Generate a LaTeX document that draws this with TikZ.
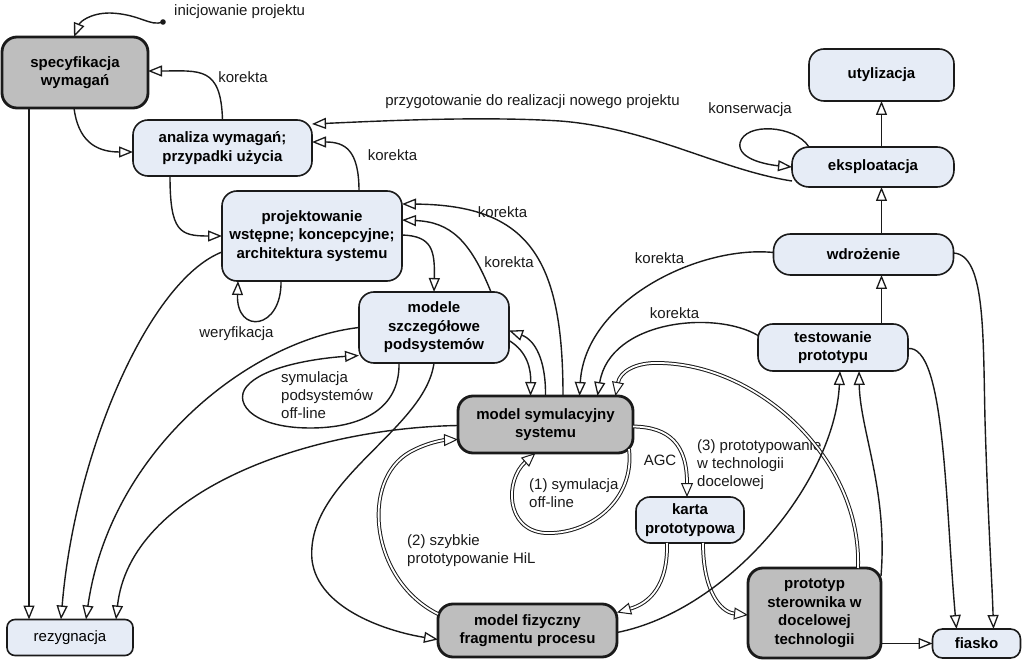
\documentclass[tikz,border=0pt]{standalone}
\usepackage{fontspec}
\setmainfont{Liberation Sans}
\usetikzlibrary{arrows.meta,calc}
\definecolor{lb}{HTML}{E6ECF6}
\definecolor{gr}{HTML}{BEBEBE}
\definecolor{bd}{HTML}{1A1A1A}
\begin{document}
\begin{tikzpicture}[x=1pt,y=-1pt,
  box/.style={draw=bd, line width=1.6pt, rounded corners=15pt, fill=lb, align=center,
    font=\bfseries\fontsize{15}{18.5}\selectfont, inner sep=0pt, outer sep=0pt, text=black},
  gbox/.style={box, fill=gr, line width=2.8pt},
  ar/.style={draw=bd, line width=1.4pt, -{Triangle[length=14pt,width=11pt,fill=white,line width=1.3pt]}},
  dbl/.style={draw=bd, double=white, double distance=1.8pt, line width=1pt, -{Triangle[length=14pt,width=12pt,fill=white]}},
  lbl/.style={font=\fontsize{15}{18}\selectfont, inner sep=0pt, align=left, text=bd}]
\useasboundingbox (0,0) rectangle (1023,660);
\fill[white] (0,0) rectangle (1023,660);

% nodes
\node[gbox, minimum width=146pt, minimum height=71pt] (spec) at (75,72.5) {specyfikacja\\wymagań};
\node[box, minimum width=179pt, minimum height=56pt] (ana) at (222.5,148) {analiza wymagań;\\przypadki użycia};
\node[box, minimum width=180pt, minimum height=90pt] (proj) at (312,236) {projektowanie\\wstępne; koncepcyjne;\\architektura systemu};
\node[box, minimum width=150pt, minimum height=71pt] (mod) at (434,327.5) {modele\\szczegółowe\\podsystemów};
\node[gbox, minimum width=175pt, minimum height=57pt] (sym) at (545.5,424.5) {model symulacyjny\\systemu};
\node[box, minimum width=108pt, minimum height=46pt, rounded corners=14pt] (karta) at (690,520) {karta\\prototypowa};
\node[gbox, minimum width=179pt, minimum height=53pt] (fiz) at (527.5,630.5) {model fizyczny\\fragmentu procesu};
\node[gbox, minimum width=133pt, minimum height=90pt] (prot) at (814.5,613) {prototyp\\sterownika w\\docelowej\\technologii};
\node[box, minimum width=88pt, minimum height=29pt, rounded corners=10pt] (fiasko) at (976.5,643.5) {fiasko};
\node[box, minimum width=126pt, minimum height=36pt, rounded corners=8pt, font=\fontsize{15}{18}\selectfont] (rez) at (70,637.5) {rezygnacja};
\node[box, minimum width=150pt, minimum height=47pt] (test) at (833,347.5) {testowanie\\prototypu};
\node[box, minimum width=180pt, minimum height=41pt, rounded corners=17pt] (wdr) at (863.5,254.5) {wdrożenie};
\node[box, minimum width=162pt, minimum height=40pt, rounded corners=17pt] (eksp) at (873,167) {eksploatacja};
\node[box, minimum width=145pt, minimum height=52pt] (uty) at (881.5,75) {utylizacja};

\coordinate (start) at (163,22);
\fill[bd] (start) circle (2.8pt);

% labels
\node[lbl, anchor=west] (l0) at (174,12) {inicjowanie projektu};
\node[lbl] (l1) at (243,77) {korekta};
\node[lbl] (l2) at (532.5,102) {przygotowanie do realizacji nowego projektu};
\node[lbl] (l3) at (392.5,155) {korekta};
\node[lbl] (l4) at (750,110) {konserwacja};
\node[lbl] (l5) at (502.5,212) {korekta};
\node[lbl] (l6) at (509,262) {korekta};
\node[lbl] (l7) at (659.5,258.5) {korekta};
\node[lbl] (l8) at (674.5,313) {korekta};
\node[lbl] (l9) at (236.5,334) {weryfikacja};
\node[lbl, anchor=west] (l10) at (281,395.5) {symulacja\\podsystemów\\off-line};
\node[lbl] (l11) at (660,460.5) {AGC};
\node[lbl, anchor=west] (l12) at (697,464.5) {(3) prototypowanie\\w technologii\\docelowej};
\node[lbl, anchor=west] (l13) at (529,493) {(1) symulacja\\off-line};
\node[lbl, anchor=west] (l14) at (407,551) {(2) szybkie\\prototypowanie HiL};

% connectors
\draw[ar] (start) .. controls (150,27) and (140,14) .. (110,13) .. controls (90,13) and (80,22) .. ([xshift=-1pt]spec.north);
\draw[ar] (ana.north) .. controls (221,66) and (200,71) .. ([yshift=1.5pt]spec.east);
\draw[ar] ([xshift=-1pt]spec.south) .. controls (78,140) and (95,152) .. ([yshift=-4pt]ana.west);
\draw[ar] ([xshift=-46pt]spec.south) -- ([xshift=-41pt]rez.north);
\draw[ar] ([yshift=-14pt]eksp.west) .. controls (720,170) and (650,128) .. (560,121) .. controls (480,116) and (380,121) .. ([yshift=24pt]ana.east);
\draw[ar] ([xshift=47pt]proj.north) .. controls (359,150) and (345,142) .. ([yshift=6pt]ana.east);
\draw[ar] ([xshift=-52.5pt]ana.south) .. controls (170,232) and (180,236) .. (proj.west);
\draw[ar] ([xshift=-31pt]proj.south) .. controls (282,330) and (236,335) .. ([xshift=-74pt]proj.south);
\draw[ar] ([yshift=-16pt]proj.west) .. controls (150,280) and (75,450) .. ([xshift=-9pt]rez.north);
\draw[ar] ([yshift=1pt]proj.east) .. controls (432,236) and (435,250) .. (mod.north);
\draw[ar] ([xshift=57pt]mod.north) .. controls (470,240) and (450,222) .. ([yshift=16pt]proj.east);
\draw[ar] ([xshift=17.5pt]sym.north) .. controls (563,260) and (530,205) .. ([yshift=32pt]proj.east);
\draw[ar] (mod.west) .. controls (250,340) and (110,450) .. ([xshift=16pt]rez.north);
\draw[ar] ([xshift=-35pt]mod.south) .. controls (400,410) and (360,428) .. (310,428) .. controls (250,428) and (230,400) .. (250,383) .. controls (270,365) and (320,358) .. ([yshift=-28pt]mod.west);
\draw[ar] (mod.south) .. controls (425,430) and (305,480) .. (312,560) .. controls (318,610) and (390,632) .. ([yshift=-9pt]fiz.west);
\draw[ar] ([yshift=-13pt]mod.east) .. controls (528,352) and (531,370) .. ([xshift=-15pt]sym.north);
\draw[ar] (sym.north) .. controls (546,360) and (535,340) .. ([yshift=-3pt]mod.east);
\draw[ar] ([yshift=-1pt]sym.west) .. controls (310,428) and (130,490) .. ([xshift=46pt]rez.north);
\draw[dbl] ([xshift=83.5pt,yshift=4pt]sym.south) .. controls (635,500) and (590,535) .. (545,533) .. controls (505,530) and (505,480) .. ([xshift=-10pt]sym.south);
\draw[dbl] ([yshift=-2pt]sym.east) .. controls (670,427) and (687,445) .. ([xshift=-3pt]karta.north);
\draw[dbl] ([yshift=-10pt]fiz.north west) .. controls (370,580) and (360,480) .. (410,452) .. controls (428,442) and (445,440) .. ([yshift=-15pt]sym.west);
\draw[dbl] ([xshift=-23pt]karta.south) .. controls (668,585) and (650,603) .. ([yshift=18pt]fiz.east);
\draw[dbl] ([xshift=13pt]karta.south) .. controls (703,590) and (720,612) .. ([yshift=-2pt]prot.west);
\draw[ar] (prot.east |- fiasko.west) -- (fiasko.west);
\draw[ar] ([yshift=-1pt]test.east) .. controls (945,345) and (945,500) .. ([xshift=-20pt]fiasko.north);
\draw[ar] ([yshift=1.5pt]wdr.east) .. controls (985,255) and (983,330) .. (985,420) .. controls (988,520) and (992,580) .. ([xshift=17pt]fiasko.north);
\draw[ar] (uty.south |- test.north) -- (uty.south |- wdr.south);
\draw[ar] (uty.south |- wdr.north) -- (uty.south |- eksp.south);
\draw[ar] (uty.south |- eksp.north) -- (uty.south);
\draw[ar] ([xshift=-64pt]eksp.north) .. controls (795,125) and (745,122) .. (740,143) .. controls (737,160) and (770,165) .. (eksp.west);
\draw[ar] ([yshift=2pt]wdr.west) .. controls (700,245) and (585,300) .. ([xshift=34pt]sym.north);
\draw[ar] ([yshift=12pt]test.west) .. controls (715,310) and (610,320) .. ([xshift=52pt]sym.north);
\draw[dbl] ([xshift=43.5pt]prot.north) .. controls (862,460) and (760,365) .. (660,363) .. controls (635,362) and (620,372) .. ([xshift=70pt]sym.north);
\draw[ar] ([yshift=-2pt]fiz.east) .. controls (730,610) and (835,480) .. ([xshift=7pt]test.south);
\draw[ar] ([yshift=37pt]prot.east) .. controls (888,490) and (860,430) .. ([xshift=26pt]test.south);
\end{tikzpicture}
\end{document}
